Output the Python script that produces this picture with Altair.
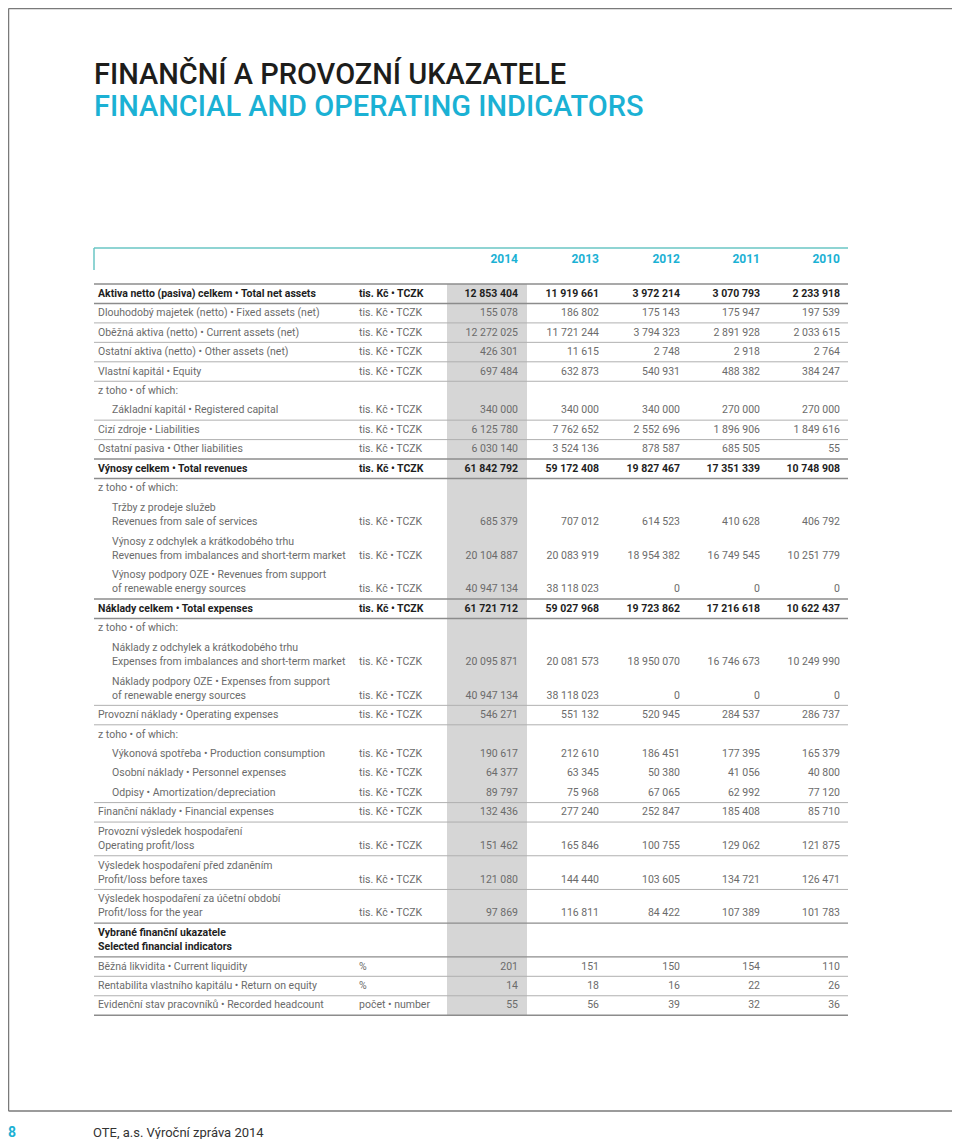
import altair as alt
import pandas as pd

# ---------------- data ----------------
title_cz = "FINANČNÍ A PROVOZNÍ UKAZATELE"
title_en = "FINANCIAL AND OPERATING INDICATORS"
years = ["2014", "2013", "2012", "2011", "2010"]

labels = [
    ["Aktiva netto (pasiva) celkem • Total net assets"],
    ["Dlouhodobý majetek (netto) • Fixed assets (net)"],
    ["Oběžná aktiva (netto) • Current assets (net)"],
    ["Ostatní aktiva (netto) • Other assets (net)"],
    ["Vlastní kapitál • Equity"],
    ["z toho • of which:"],
    ["Základní kapitál • Registered capital"],
    ["Cizí zdroje • Liabilities"],
    ["Ostatní pasiva • Other liabilities"],
    ["Výnosy celkem • Total revenues"],
    ["z toho • of which:"],
    ["Tržby z prodeje služeb", "Revenues from sale of services"],
    ["Výnosy z odchylek a krátkodobého trhu", "Revenues from imbalances and short-term market"],
    ["Výnosy podpory OZE • Revenues from support", "of renewable energy sources"],
    ["Náklady celkem • Total expenses"],
    ["z toho • of which:"],
    ["Náklady z odchylek a krátkodobého trhu", "Expenses from imbalances and short-term market"],
    ["Náklady podpory OZE • Expenses from support", "of renewable energy sources"],
    ["Provozní náklady • Operating expenses"],
    ["z toho • of which:"],
    ["Výkonová spotřeba • Production consumption"],
    ["Osobní náklady • Personnel expenses"],
    ["Odpisy • Amortization/depreciation"],
    ["Finanční náklady • Financial expenses"],
    ["Provozní výsledek hospodaření", "Operating profit/loss"],
    ["Výsledek hospodaření před zdaněním", "Profit/loss before taxes"],
    ["Výsledek hospodaření za účetní období", "Profit/loss for the year"],
    ["Vybrané finanční ukazatele", "Selected financial indicators"],
    ["Běžná likvidita • Current liquidity"],
    ["Rentabilita vlastního kapitálu • Return on equity"],
    ["Evidenční stav pracovníků • Recorded headcount"],
]

# row kind: b = bold total, p = plain, s = indented sub-item, n = note, h = bold heading
kinds = ["b", "p", "p", "p", "p", "n", "s", "p", "p", "b", "n", "s", "s", "s", "b", "n", "s", "s",
         "p", "n", "s", "s", "s", "p", "p", "p", "p", "h", "p", "p", "p"]

U = "tis. Kč • TCZK"
units = [U, U, U, U, U, "", U, U, U, U, "", U, U, U, U, "", U, U,
         U, "", U, U, U, U, U, U, U, "", "%", "%", "počet • number"]

v2014 = [12853404, 155078, 12272025, 426301, 697484, None, 340000, 6125780, 6030140, 61842792, None,
         685379, 20104887, 40947134, 61721712, None, 20095871, 40947134, 546271, None, 190617, 64377,
         89797, 132436, 151462, 121080, 97869, None, 201, 14, 55]
v2013 = [11919661, 186802, 11721244, 11615, 632873, None, 340000, 7762652, 3524136, 59172408, None,
         707012, 20083919, 38118023, 59027968, None, 20081573, 38118023, 551132, None, 212610, 63345,
         75968, 277240, 165846, 144440, 116811, None, 151, 18, 56]
v2012 = [3972214, 175143, 3794323, 2748, 540931, None, 340000, 2552696, 878587, 19827467, None,
         614523, 18954382, 0, 19723862, None, 18950070, 0, 520945, None, 186451, 50380,
         67065, 252847, 100755, 103605, 84422, None, 150, 16, 39]
v2011 = [3070793, 175947, 2891928, 2918, 488382, None, 270000, 1896906, 685505, 17351339, None,
         410628, 16749545, 0, 17216618, None, 16746673, 0, 284537, None, 177395, 41056,
         62992, 185408, 129062, 134721, 107389, None, 154, 22, 32]
v2010 = [2233918, 197539, 2033615, 2764, 384247, None, 270000, 1849616, 55, 10748908, None,
         406792, 10251779, 0, 10622437, None, 10249990, 0, 286737, None, 165379, 40800,
         77120, 85710, 121875, 126471, 101783, None, 110, 26, 36]
values = [v2014, v2013, v2012, v2011, v2010]

footer_page = "8"
footer_text = "OTE, a.s.  Výroční zpráva 2014"

# ---------------- layout (chart pixel space) ----------------
W, H = 944, 1131
X0, X1 = 86, 840            # table left / right
LABEL_X, SUB_X, UNIT_X = 90, 104, 351
VAL_X = [510, 591, 672, 752, 832]
BAND_X0, BAND_X1 = 439, 519
TOP0 = 276
H1, H2 = 19.45, 33.7

TEAL = "#1bb1d4"
TEAL_LINE = "#6ac6c4"
GREY_TXT = "#6b6b6b"
DARK_TXT = "#1e1e1e"
FONT = "Roboto"
FS = 10.5


def fmt(v):
    return f"{v:,}".replace(",", " ")


texts = []
rules = []
tops = []
y = TOP0
for i, lab in enumerate(labels):
    h = H1 if len(lab) == 1 else H2
    tops.append((y, h))
    k = kinds[i]
    lx = SUB_X if k == "s" else LABEL_X
    bold = k in ("b", "h")
    ys = [y + 9.7] if len(lab) == 1 else [y + 10, y + 24]
    for line, yy in zip(lab, ys):
        texts.append(dict(x=lx, y=yy, text=line, layer="lab_b" if bold else "lab"))
    if units[i]:
        texts.append(dict(x=UNIT_X, y=ys[-1], text=units[i], layer="unit_b" if bold else "unit"))
    for j, col in enumerate(values):
        v = col[i]
        if v is not None:
            texts.append(dict(x=VAL_X[j], y=ys[-1], text=fmt(v), layer="val_b" if bold else "val"))
    y += h
BOTTOM = y

# separators: none inside a "z toho" group
rules.append(dict(x=X0, x2=X1, y=TOP0, y2=TOP0, color="#8c8c8c", w=1.3))
n = len(kinds)
for i, (t, h) in enumerate(tops):
    nxt = kinds[i + 1] if i + 1 < n else None
    if kinds[i] == "n" or (kinds[i] == "s" and nxt == "s"):
        continue
    strong = kinds[i] in ("b", "h") or nxt in ("b", "h") or nxt is None
    rules.append(dict(x=X0, x2=X1, y=t + h, y2=t + h,
                      color="#8c8c8c" if strong else "#b0b0b0", w=1.4 if strong else 1.0))

head = [dict(x=X0, x2=X1, y=240, y2=240), dict(x=X0, x2=X0, y=240, y2=262)]
frame = [dict(x=0.5, x2=W, y=0.5, y2=0.5), dict(x=0.5, x2=0.5, y=0.5, y2=1103),
         dict(x=0.5, x2=W, y=1103, y2=1103)]

year_df = pd.DataFrame(dict(x=VAL_X, y=[251] * 5, text=years))
tdf = pd.DataFrame(texts)
rdf = pd.DataFrame(rules)


def X(f="x"):
    return alt.X(f"{f}:Q", scale=None, axis=None)


def Y(f="y"):
    return alt.Y(f"{f}:Q", scale=None, axis=None)


band = alt.Chart(pd.DataFrame([dict(x=BAND_X0, x2=BAND_X1, y=TOP0, y2=BOTTOM)])).mark_rect(
    color="#d6d6d6").encode(x=X(), x2="x2:Q", y=Y(), y2="y2:Q")

sep = alt.Chart(rdf).mark_rule().encode(
    x=X(), x2="x2:Q", y=Y(), y2="y2:Q",
    color=alt.Color("color:N", scale=None), strokeWidth=alt.StrokeWidth("w:Q", scale=None))

head_l = alt.Chart(pd.DataFrame(head)).mark_rule(color=TEAL_LINE, strokeWidth=1.5).encode(
    x=X(), x2="x2:Q", y=Y(), y2="y2:Q")
frame_l = alt.Chart(pd.DataFrame(frame)).mark_rule(color="#7a7a7a", strokeWidth=1.5).encode(
    x=X(), x2="x2:Q", y=Y(), y2="y2:Q")


def tlayer(layer, align, weight, color):
    d = tdf[tdf.layer == layer]
    return alt.Chart(d).mark_text(align=align, baseline="middle", font=FONT, fontSize=FS,
                                  fontWeight=weight, color=color).encode(x=X(), y=Y(), text="text:N")


layers = [band, sep, head_l, frame_l,
          tlayer("lab", "left", "normal", GREY_TXT), tlayer("lab_b", "left", "bold", DARK_TXT),
          tlayer("unit", "left", "normal", GREY_TXT), tlayer("unit_b", "left", "bold", DARK_TXT),
          tlayer("val", "right", "normal", GREY_TXT), tlayer("val_b", "right", "bold", DARK_TXT)]

years_t = alt.Chart(year_df).mark_text(align="right", baseline="middle", font=FONT, fontSize=12,
                                       fontWeight="bold", color=TEAL).encode(x=X(), y=Y(), text="text:N")
titles = alt.Chart(pd.DataFrame(dict(x=[86, 86], y=[67, 99], text=[title_cz, title_en],
                                     c=["#1d1d1b", TEAL]))).mark_text(
    align="left", baseline="middle", font=FONT, fontSize=29, fontWeight=500).encode(
    x=X(), y=Y(), text="text:N", color=alt.Color("c:N", scale=None))
foot_n = alt.Chart(pd.DataFrame(dict(x=[0], y=[1125], text=[footer_page]))).mark_text(
    align="left", baseline="middle", font=FONT, fontSize=14, fontWeight="bold", color=TEAL).encode(
    x=X(), y=Y(), text="text:N")
foot_t = alt.Chart(pd.DataFrame(dict(x=[85], y=[1125], text=[footer_text]))).mark_text(
    align="left", baseline="middle", font=FONT, fontSize=13, color="#333333").encode(
    x=X(), y=Y(), text="text:N")

chart = alt.layer(*layers, years_t, titles, foot_n, foot_t).properties(
    width=W, height=H, padding=0, autosize=alt.AutoSizeParams(type="none")
).configure_view(stroke=None)

chart.save("out.html", embed_options={"renderer": "svg", "actions": False})
